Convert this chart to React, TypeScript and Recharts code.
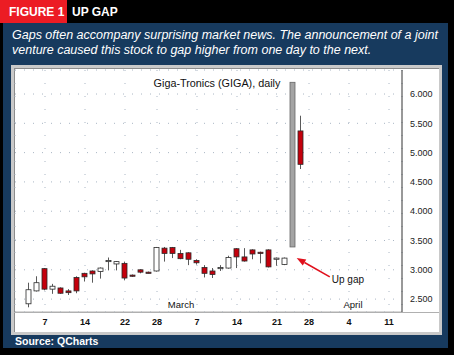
import React from "react";
import { ComposedChart, Bar, XAxis, YAxis, CartesianGrid, ReferenceLine } from "recharts";

// ---- data ----
const tradingDays = [
  "Feb 3", "Feb 4", "Feb 7", "Feb 8", "Feb 9", "Feb 10", "Feb 11", "Feb 14", "Feb 15", "Feb 16",
  "Feb 17", "Feb 18", "Feb 22", "Feb 23", "Feb 24", "Feb 25", "Feb 28", "Mar 1", "Mar 2", "Mar 3",
  "Mar 4", "Mar 7", "Mar 8", "Mar 9", "Mar 10", "Mar 11", "Mar 14", "Mar 15", "Mar 16", "Mar 17",
  "Mar 18", "Mar 21", "Mar 22", "Mar 23", "Mar 24", "Mar 28", "Mar 29", "Mar 30", "Mar 31", "Apr 1",
  "Apr 4", "Apr 5", "Apr 6", "Apr 7", "Apr 8", "Apr 11", "Apr 12", "Apr 13",
];

const candleDates = [
  "Feb 3", "Feb 4", "Feb 7", "Feb 8", "Feb 9", "Feb 10", "Feb 11", "Feb 14", "Feb 15", "Feb 16",
  "Feb 17", "Feb 18", "Feb 22", "Feb 23", "Feb 24", "Feb 25", "Feb 28", "Mar 1", "Mar 2", "Mar 3",
  "Mar 4", "Mar 7", "Mar 8", "Mar 9", "Mar 10", "Mar 11", "Mar 14", "Mar 15", "Mar 16", "Mar 17",
  "Mar 18", "Mar 21", "Mar 22", "Mar 24",
];
const opens = [
  2.42, 2.64, 3.02, 2.67, 2.69, 2.64, 2.87, 2.94, 2.98, 2.97,
  3.14, 3.10, 3.11, 2.91, 3.00, 2.96, 2.98, 3.37, 3.38, 3.28,
  3.29, 3.16, 3.04, 2.98, 3.02, 3.03, 3.36, 3.22, 3.34, 3.30,
  3.34, 3.19, 3.09, 5.37,
];
const highs = [
  2.78, 2.89, 3.03, 2.76, 2.70, 2.67, 2.89, 2.95, 2.99, 3.04,
  3.21, 3.15, 3.14, 2.92, 3.01, 2.97, 3.39, 3.39, 3.39, 3.34,
  3.30, 3.18, 3.08, 3.03, 3.08, 3.24, 3.37, 3.37, 3.35, 3.31,
  3.35, 3.21, 3.21, 5.63,
];
const lows = [
  2.36, 2.63, 2.65, 2.59, 2.59, 2.57, 2.60, 2.80, 2.78, 2.85,
  2.99, 2.99, 2.82, 2.88, 2.94, 2.94, 2.97, 3.14, 3.20, 3.18,
  3.08, 3.09, 2.87, 2.86, 2.98, 3.02, 3.03, 3.14, 3.18, 3.11,
  3.04, 3.07, 3.08, 4.72,
];
const closes = [
  2.66, 2.78, 2.67, 2.72, 2.60, 2.61, 2.64, 2.88, 2.93, 3.03,
  3.16, 3.14, 2.86, 2.89, 2.96, 2.95, 3.38, 3.28, 3.28, 3.19,
  3.18, 3.12, 2.94, 2.92, 3.04, 3.21, 3.22, 3.15, 3.27, 3.28,
  3.05, 3.20, 3.20, 4.80,
];

const gapDate = "Mar 23";
const gapLow = 3.39;
const gapHigh = 6.2;

const tickDates = ["Feb 7", "Feb 14", "Feb 22", "Feb 28", "Mar 7", "Mar 14", "Mar 21", "Mar 28", "Apr 4", "Apr 11"];
const tickLabels = ["7", "14", "22", "28", "7", "14", "21", "28", "4", "11"];
const priceTicks = [2.5, 3, 3.5, 4, 4.5, 5, 5.5, 6];
const monthNames = ["March", "April"];
const monthDates = ["Mar 3", "Apr 4"];

// annotation arrow (data coordinates: day + offset, price)
const arrowHead = { day: gapDate, offset: 0.46, price: 3.2 };
const arrowTail = { day: "Mar 30", offset: 0.6, price: 2.88 };

// ---- derived ----
const idx = (d: string) => tradingDays.indexOf(d);

const rows: any[] = candleDates.map((d, k) => ({
  i: idx(d),
  range: [lows[k], highs[k]],
  open: opens[k],
  close: closes[k],
  kind: closes[k] >= opens[k] ? "up" : "down",
}));
rows.push({ i: idx(gapDate), range: [gapLow, gapHigh], open: gapLow, close: gapHigh, kind: "gap" });
rows.sort((a, b) => a.i - b.i);

const tickIdx = tickDates.map(idx);
const tickMap: Record<number, string> = {};
tickIdx.forEach((v, k) => (tickMap[v] = tickLabels[k]));

const Candle = (props: any) => {
  const { x, y, width, height, payload } = props;
  if (x == null || y == null) return null;
  const top = Math.min(y, y + height);
  const h = Math.abs(height);
  const [lo, hi] = payload.range;
  const cx = x + width / 2;
  if (payload.kind === "gap") {
    return (
      <rect x={x} y={top} width={width} height={h} fill="#a4a4a4" stroke="#666" strokeWidth={0.8} />
    );
  }
  const ppu = h / (hi - lo);
  const bTop = top + (hi - Math.max(payload.open, payload.close)) * ppu;
  const bBot = top + (hi - Math.min(payload.open, payload.close)) * ppu;
  const up = payload.kind === "up";
  return (
    <g>
      <line x1={cx} x2={cx} y1={top} y2={top + h} stroke="#5a5a5a" strokeWidth={1} />
      <rect
        x={x}
        y={bTop}
        width={width}
        height={Math.max(1.2, bBot - bTop)}
        fill={up ? "#ffffff" : "#c4000c"}
        stroke="#2a2a2a"
        strokeWidth={0.8}
      />
    </g>
  );
};

const Arrow = (props: any) => {
  const { x1, y1, x2, y2 } = props;
  if (x1 == null) return null;
  const ang = Math.atan2(y1 - y2, x1 - x2);
  const L = 9;
  const W = 3.5;
  const bx = x1 - L * Math.cos(ang);
  const by = y1 - L * Math.sin(ang);
  const px = -Math.sin(ang) * W;
  const py = Math.cos(ang) * W;
  return (
    <g>
      <line x1={x2} y1={y2} x2={bx} y2={by} stroke="#e0101c" strokeWidth={1.6} />
      <polygon points={`${x1},${y1} ${bx + px},${by + py} ${bx - px},${by - py}`} fill="#e0101c" />
      <text x={x2 + 2} y={y2 + 6.5} fontSize={10} fill="#111" fontFamily="Liberation Sans, Arial, sans-serif">
        Up gap
      </text>
    </g>
  );
};

export default function App() {
  const font = "'Liberation Sans', Arial, sans-serif";
  return (
    <div
      style={{
        position: "fixed",
        left: 0,
        top: 0,
        width: 454,
        height: 355,
        background: "#000",
        fontFamily: font,
        overflow: "hidden",
      }}
    >
      {/* header */}
      <div style={{ position: "absolute", left: 0, top: 0, width: 67, height: 23, background: "#ec1c24" }} />
      <div
        style={{
          position: "absolute",
          left: 9,
          top: 4,
          lineHeight: "16px",
          fontSize: 12,
          fontWeight: 700,
          color: "#fff",
          whiteSpace: "nowrap",
        }}
      >
        FIGURE 1
      </div>
      <div
        style={{
          position: "absolute",
          left: 72,
          top: 4,
          lineHeight: "16px",
          fontSize: 12,
          fontWeight: 700,
          color: "#fff",
          whiteSpace: "nowrap",
        }}
      >
        UP GAP
      </div>

      {/* blue panel */}
      <div style={{ position: "absolute", left: 3, top: 23, width: 445, height: 325, background: "#173a5e" }} />
      <div
        style={{
          position: "absolute",
          left: 12,
          top: 28,
          fontSize: 12.5,
          lineHeight: "15px",
          fontStyle: "italic",
          color: "#fff",
          whiteSpace: "nowrap",
        }}
      >
        Gaps often accompany surprising market news. The announcement of a joint
      </div>
      <div
        style={{
          position: "absolute",
          left: 12,
          top: 43,
          fontSize: 12.5,
          lineHeight: "15px",
          fontStyle: "italic",
          color: "#fff",
          whiteSpace: "nowrap",
        }}
      >
        venture caused this stock to gap higher from one day to the next.
      </div>

      {/* chart box */}
      <div style={{ position: "absolute", left: 11, top: 65, width: 431, height: 270, background: "#c9c9c9" }} />
      <div
        style={{
          position: "absolute",
          left: 14,
          top: 68,
          width: 425,
          height: 264,
          background: "#fff",
          boxShadow: "inset 1px 1px 0 #8c8c8c",
        }}
      />
      <div style={{ position: "absolute", left: 14, top: 312, width: 425, height: 1, background: "#b0b0b0" }} />

      <div style={{ position: "absolute", left: 14, top: 68 }}>
        <ComposedChart
          width={425}
          height={264}
          data={rows}
          margin={{ top: 2, right: 0, bottom: 0, left: 1 }}
        >
          <CartesianGrid vertical={false} stroke="#aab6c4" strokeDasharray="1 8" />
          <CartesianGrid horizontal={false} stroke="#aab6c4" strokeDasharray="1 12" />
          <XAxis
            dataKey="i"
            type="number"
            domain={[-1.75, 46.625]}
            ticks={tickIdx}
            interval={0}
            tickFormatter={(v: number) => tickMap[v] ?? ""}
            height={20}
            tickSize={0}
            tickMargin={7}
            axisLine={{ stroke: "#b0b0b0" }}
            tickLine={false}
            tick={{ fontSize: 9, fontWeight: 700, fill: "#111", fontFamily: font }}
            allowDataOverflow
          />
          <YAxis
            orientation="right"
            type="number"
            domain={[2.28, 6.41]}
            ticks={priceTicks}
            interval={0}
            tickFormatter={(v: number) => v.toFixed(3)}
            width={37}
            tickSize={0}
            tickMargin={8}
            axisLine={{ stroke: "#333" }}
            tickLine={false}
            tick={{ fontSize: 9, fill: "#222", fontFamily: font }}
            allowDataOverflow
          />
          {monthNames.map((m, k) => (
            <ReferenceLine
              key={m}
              x={idx(monthDates[k]) + (k === 1 ? 0.5 : 0)}
              stroke="none"
              label={{ value: m, position: "insideBottom", offset: 4, fontSize: 9.5, fill: "#111", fontFamily: font }}
            />
          ))}
          <Bar dataKey="range" barSize={5} shape={Candle} isAnimationActive={false} />
          <ReferenceLine
            segment={[
              { x: idx(arrowHead.day) + arrowHead.offset, y: arrowHead.price },
              { x: idx(arrowTail.day) + arrowTail.offset, y: arrowTail.price },
            ]}
            shape={Arrow}
          />
        </ComposedChart>
      </div>

      <div
        style={{
          position: "absolute",
          left: 137,
          top: 77,
          width: 160,
          textAlign: "center",
          fontSize: 10.8,
          lineHeight: "13px",
          color: "#111",
          whiteSpace: "nowrap",
        }}
      >
        Giga-Tronics (GIGA), daily
      </div>

      <div
        style={{
          position: "absolute",
          left: 15,
          top: 335,
          fontSize: 10.5,
          lineHeight: "13px",
          fontWeight: 700,
          color: "#fff",
          whiteSpace: "nowrap",
        }}
      >
        Source: QCharts
      </div>
    </div>
  );
}
